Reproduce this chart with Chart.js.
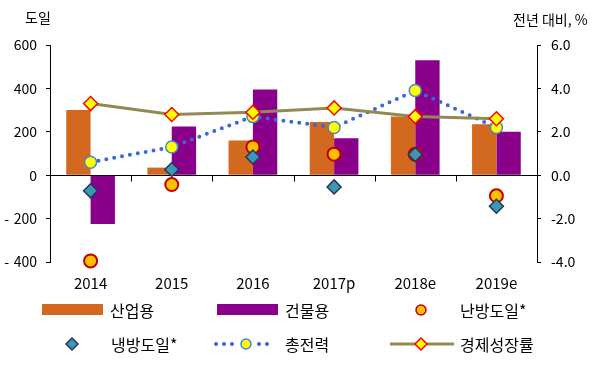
<!DOCTYPE html>
<html>
<head>
<meta charset="utf-8">
<script src="https://cdn.jsdelivr.net/npm/chart.js@4"></script>
<style>
  body { margin: 0; background: #fff; font-family: "Noto Sans CJK KR", sans-serif; }
  #wrap { position: relative; width: 600px; height: 377px; }
  .cap { position: absolute; font-size: 14px; color: #000; line-height: 1; white-space: nowrap; }
  .lg { position: absolute; font-size: 16px; color: #000; line-height: 1; white-space: nowrap; }
  .sw { position: absolute; }
</style>
</head>
<body>
<div id="wrap">
  <canvas id="chart" width="600" height="377"></canvas>
  <div class="cap" style="left:25px; top:10px;">도일</div>
  <div class="cap" style="left:513px; top:12px;">전년 대비, %</div>

  <!-- legend -->
  <svg class="sw" style="left:42px; top:304px;" width="61" height="11"><rect width="61" height="11" fill="#D2691E"/></svg>
  <div class="lg" style="left:110px; top:302px;">산업용</div>
  <svg class="sw" style="left:217px; top:304px;" width="61" height="11"><rect width="61" height="11" fill="#8B008B"/></svg>
  <div class="lg" style="left:285px; top:302px;">건물용</div>
  <svg class="sw" style="left:413px; top:302px;" width="16" height="16"><circle cx="8" cy="8" r="5" fill="#FFC000" stroke="#C00000" stroke-width="1.5"/></svg>
  <div class="lg" style="left:460px; top:302px;">난방도일*</div>

  <svg class="sw" style="left:64px; top:336px;" width="16" height="16"><polygon points="8,2 14,8 8,14 2,8" fill="#3E97B0" stroke="#1F3864" stroke-width="1.5"/></svg>
  <div class="lg" style="left:111px; top:336px;">냉방도일*</div>
  <svg class="sw" style="left:212px; top:336px;" width="62" height="16">
    <g fill="#3A66E0"><circle cx="4" cy="8" r="2"/><circle cx="12" cy="8" r="2"/><circle cx="20" cy="8" r="2"/><circle cx="47" cy="8" r="2"/><circle cx="55" cy="8" r="2"/></g>
    <circle cx="34" cy="8" r="5" fill="#FFFF00" stroke="#4A86C8" stroke-width="1.5"/>
  </svg>
  <div class="lg" style="left:285px; top:336px;">총전력</div>
  <svg class="sw" style="left:390px; top:336px;" width="64" height="16">
    <line x1="0" y1="8" x2="64" y2="8" stroke="#938953" stroke-width="3"/>
    <polygon points="31,2 37,8 31,14 25,8" fill="#FFFF00" stroke="#FF0000" stroke-width="1.5"/>
  </svg>
  <div class="lg" style="left:460px; top:336px;">경제성장률</div>
</div>
<script>
const years = ['2014', '2015', '2016', '2017p', '2018e', '2019e'];
const industry = [300, 35, 160, 245, 270, 235];        // 산업용 (도일 axis)
const building = [-225, 225, 395, 170, 530, 200];      // 건물용
const heatingDays = [-395, -43, 130, 97, 97, -95];     // 난방도일*
const coolingDays = [-72, 26, 84, -54, 95, -143];      // 냉방도일*
const totalPower = [0.6, 1.3, 2.7, 2.2, 3.9, 2.2];     // 총전력 (%)
const gdpGrowth = [3.3, 2.8, 2.9, 3.1, 2.7, 2.6];      // 경제성장률 (%)

const FONT = '"Noto Sans CJK KR", sans-serif';

// zero line + category tick marks hanging below it
const zeroAxis = {
  id: 'zeroAxis',
  beforeDatasetsDraw(chart) {
    const { ctx, chartArea, scales: { x, y } } = chart;
    const y0 = Math.round(y.getPixelForValue(0)) + 0.5;
    const step = x.getPixelForValue(1) - x.getPixelForValue(0);
    ctx.save();
    ctx.strokeStyle = '#000';
    ctx.lineWidth = 1;
    ctx.beginPath();
    ctx.moveTo(chartArea.left, y0);
    ctx.lineTo(chartArea.right, y0);
    for (let i = 1; i < years.length; i++) {
      const px = Math.round(x.getPixelForValue(i) - step / 2) + 0.5;
      ctx.moveTo(px, y0);
      ctx.lineTo(px, y0 + 6);
    }
    ctx.stroke();
    ctx.restore();
  }
};

new Chart(document.getElementById('chart'), {
  type: 'bar',
  data: {
    labels: years,
    datasets: [
      { label: '산업용', data: industry, backgroundColor: '#D2691E', yAxisID: 'y', order: 10,
        categoryPercentage: 0.6, barPercentage: 1.0 },
      { label: '건물용', data: building, backgroundColor: '#8B008B', yAxisID: 'y', order: 10,
        categoryPercentage: 0.6, barPercentage: 1.0 },
      { label: '난방도일*', type: 'line', data: heatingDays, yAxisID: 'y', order: 5, clip: false,
        showLine: false, pointRadius: 6.5, pointBorderWidth: 2,
        pointBackgroundColor: '#FFC000', pointBorderColor: '#C00000' },
      { label: '냉방도일*', type: 'line', data: coolingDays, yAxisID: 'y', order: 4, clip: false,
        showLine: false, pointStyle: 'rectRot', pointRadius: 7, pointBorderWidth: 1.5,
        pointBackgroundColor: '#3E97B0', pointBorderColor: '#1F3864' },
      { label: '총전력', type: 'line', data: totalPower, yAxisID: 'y2', order: 3, clip: false,
        borderColor: '#3A66E0', borderWidth: 4, borderDash: [0, 8], borderCapStyle: 'round',
        tension: 0, fill: false, pointRadius: 6, pointBorderWidth: 1.5,
        pointBackgroundColor: '#FFFF00', pointBorderColor: '#4A86C8' },
      { label: '경제성장률', type: 'line', data: gdpGrowth, yAxisID: 'y2', order: 2, clip: false,
        borderColor: '#938953', borderWidth: 3, tension: 0, fill: false,
        pointStyle: 'rectRot', pointRadius: 7, pointBorderWidth: 1.5,
        pointBackgroundColor: '#FFFF00', pointBorderColor: '#FF0000' }
    ]
  },
  options: {
    responsive: false,
    animation: false,
    layout: { padding: { top: 45, left: 0, right: 0, bottom: 0 } },
    plugins: { legend: { display: false }, tooltip: { enabled: false } },
    scales: {
      x: {
        grid: { display: false, drawTicks: false },
        border: { display: false },
        ticks: { color: '#000', font: { family: FONT, size: 15 }, padding: 12 },
        afterFit: s => { s.height = 115; }
      },
      y: {
        position: 'left',
        min: -400, max: 600,
        grid: { drawOnChartArea: false, drawTicks: true, tickLength: 4, color: '#000' },
        border: { display: true, color: '#000', width: 1 },
        ticks: {
          stepSize: 200, color: '#000', font: { family: FONT, size: 14 }, padding: 9,
          callback: v => (v < 0 ? '-\u2004' + Math.abs(v) : String(v))
        },
        afterFit: s => { s.width = 50; }
      },
      y2: {
        position: 'right',
        min: -4, max: 6,
        grid: { drawOnChartArea: false, drawTicks: true, tickLength: 4, color: '#000' },
        border: { display: true, color: '#000', width: 1 },
        ticks: {
          stepSize: 2, color: '#000', font: { family: FONT, size: 14 }, padding: 10,
          callback: v => v.toFixed(1)
        },
        afterFit: s => { s.width = 63; }
      }
    }
  },
  plugins: [zeroAxis]
});
</script>
</body>
</html>
